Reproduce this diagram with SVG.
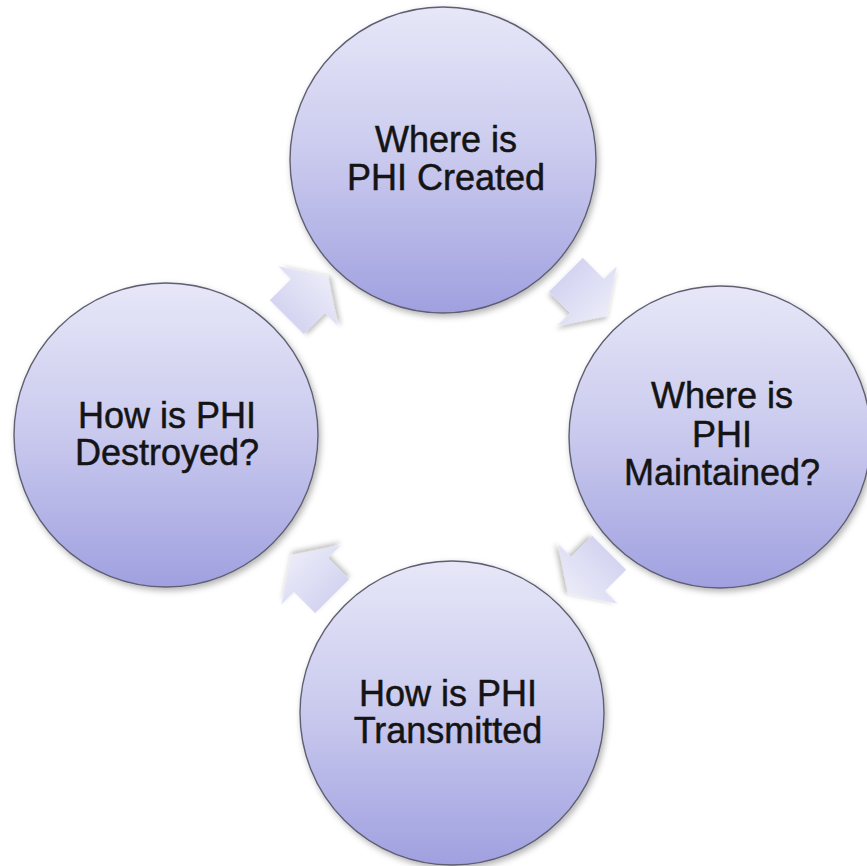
<svg xmlns="http://www.w3.org/2000/svg" width="867" height="866" viewBox="0 0 867 866">
  <defs>
    <linearGradient id="circleFill" x1="0" y1="0" x2="0" y2="1">
      <stop offset="0" stop-color="#e7e7f8"/>
      <stop offset="0.5" stop-color="#c9c9ee"/>
      <stop offset="1" stop-color="#a0a0e0"/>
    </linearGradient>
    <linearGradient id="arrowFill" x1="0" y1="0" x2="1" y2="0">
      <stop offset="0" stop-color="#d4d4f1"/>
      <stop offset="1" stop-color="#ebebf9"/>
    </linearGradient>
    <filter id="shadow" x="-20%" y="-20%" width="150%" height="150%">
      <feDropShadow dx="2" dy="3" stdDeviation="3" flood-color="#000" flood-opacity="0.3"/>
    </filter>
    <filter id="arrowShadow" x="-40%" y="-40%" width="180%" height="180%">
      <feDropShadow dx="2" dy="3" stdDeviation="2.5" flood-color="#000" flood-opacity="0.25"/>
    </filter>
    <!-- block arrow pointing along +x, origin at the middle of the head base -->
    <polygon id="cycleArrow" points="-30,-24 0,-24 0,-42 28,0 0,42 0,24 -30,24"/>
  </defs>
  <style>
    .node circle { fill: url(#circleFill); stroke: #5f5f72; stroke-width: 1.4; filter: url(#shadow); }
    .node text { font-family: "Liberation Sans", Arial, sans-serif; font-size: 36px; fill: #141414; stroke: #141414; stroke-width: 0.5; text-anchor: middle; }
    .arrow { fill: url(#arrowFill); filter: url(#arrowShadow); }
  </style>

  <rect width="867" height="866" fill="#ffffff"/>

  <!-- cycle arrows between the four stages -->
  <g id="connectors">
    <use class="arrow" href="#cycleArrow" transform="translate(308,296) rotate(-45)"/>
    <use class="arrow" href="#cycleArrow" transform="translate(587,296) rotate(45)"/>
    <use class="arrow" href="#cycleArrow" transform="translate(588,574) rotate(135)"/>
    <use class="arrow" href="#cycleArrow" transform="translate(311,575) rotate(-135)"/>
  </g>

  <g id="node-created" class="node">
    <circle cx="443" cy="160" r="153"/>
    <text x="446" y="152">Where is</text>
    <text x="446" y="190">PHI Created</text>
  </g>

  <g id="node-maintained" class="node">
    <circle cx="720" cy="437" r="151"/>
    <text x="722" y="408">Where is</text>
    <text x="722" y="447">PHI</text>
    <text x="722" y="485">Maintained?</text>
  </g>

  <g id="node-transmitted" class="node">
    <circle cx="452" cy="713" r="152"/>
    <text x="448" y="706">How is PHI</text>
    <text x="448" y="743">Transmitted</text>
  </g>

  <g id="node-destroyed" class="node">
    <circle cx="166" cy="435" r="152"/>
    <text x="167" y="428">How is PHI</text>
    <text x="167" y="465">Destroyed?</text>
  </g>
</svg>
